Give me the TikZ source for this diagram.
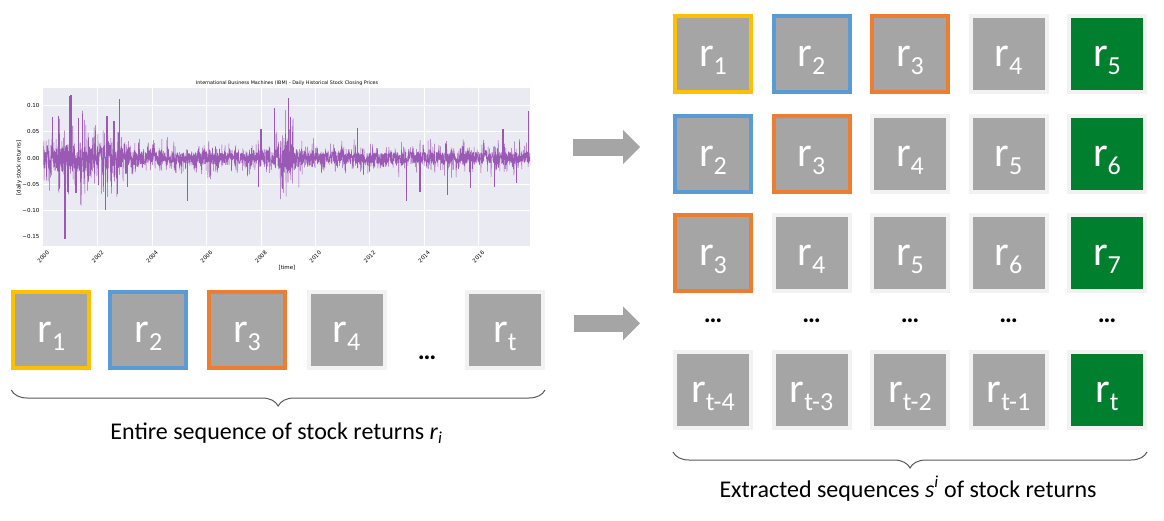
\documentclass[tikz,border=0pt]{standalone}
\usepackage{fontspec}
\setmainfont{Carlito}
\newfontfamily\plotfont{DejaVu Sans}
\usepackage{tikz}
\usetikzlibrary{arrows.meta,decorations.pathreplacing}

\definecolor{boxgrey}{HTML}{A5A5A5}
\definecolor{framelight}{HTML}{F2F2F2}
\definecolor{frameyellow}{HTML}{FFC000}
\definecolor{frameblue}{HTML}{5B9BD5}
\definecolor{frameorange}{HTML}{ED7D31}
\definecolor{retgreen}{HTML}{007F2F}
\definecolor{arrowgrey}{HTML}{A5A5A5}
\definecolor{bracegrey}{HTML}{595959}
\definecolor{plotbg}{HTML}{EAEAF2}
\definecolor{plotline}{HTML}{9B59B6}
\colorlet{frame1}{frameyellow}
\colorlet{frame2}{frameblue}
\colorlet{frame3}{frameorange}
\colorlet{frame4}{framelight}
\colorlet{frame5}{framelight}
\colorlet{frame6}{framelight}
\colorlet{frame7}{framelight}
\colorlet{fill1}{boxgrey}
\colorlet{fill2}{boxgrey}
\colorlet{fill3}{boxgrey}
\colorlet{fill4}{boxgrey}
\colorlet{fill5}{retgreen}

\newcommand{\rsub}[1]{r\raisebox{-8pt}{\fontsize{26}{26}\selectfont #1}}

\begin{document}
\begin{tikzpicture}[x=1pt, y=-1pt,
    declare function={env(\t)=0.017+0.027*exp(-((\t-1.0)/1.6)^2)+0.008*exp(-((\t-2.6)/0.6)^2)+0.03*exp(-((\t-8.9)/0.45)^2);}]
      \tikzstyle{retbox}=[draw=#1, line width=4pt, fill=boxgrey, minimum size=76pt,
        inner sep=0pt, text=white, text height=25pt, text depth=0pt,
        font=\fontsize{42}{42}\selectfont]
      \tikzset{retbox/.default=framelight}
      \tikzstyle{dotsep}=[inner sep=0pt, font=\bfseries\fontsize{26}{26}\selectfont]
      \tikzstyle{blockarrow}=[draw=arrowgrey, line width=17pt,
        -{Triangle[length=17pt, width=34pt, line width=0pt]}]
      \tikzstyle{seqbrace}=[draw=bracegrey, line width=1pt,
        decorate, decoration={brace, mirror, amplitude=16pt}]
      \tikzstyle{seqlabel}=[inner sep=0pt, font=\fontsize{24}{28}\selectfont]
      \tikzstyle{ticklab}=[inner sep=0pt, font=\plotfont\fontsize{5.5}{6}\selectfont]
      \tikzstyle{plotgrid}=[draw=white, line width=0.8pt]
      \tikzstyle{spike}=[draw=plotline, line width=1.2pt, line cap=butt]
      \def \colstep {98.5}
      \def \yrw {27.2}
      \useasboundingbox (0,0) rectangle (1164,520);

      \fill[plotbg] (43.3,88.3) rectangle (530,245.7);
      \foreach \yr in {2,4,...,16} {
        \draw[plotgrid] ({43.3+\yrw*\yr},88.3) -- ({43.3+\yrw*\yr},245.7);
      }
      \foreach \v in {0.10,0.05,0,-0.05,-0.10} {
        \draw[plotgrid] (43.3,{158-524*\v}) -- (530,{158-524*\v});
      }
      \begin{scope}
        \clip (43.3,88.3) rectangle (530,245.7);
        \pgfmathsetseed{42}
        \draw[plotline, line width=0.5pt, line join=round]
          plot[domain=0:17.95, samples=3000, variable=\t]
          ({43.3+\yrw*\t}, {158-524*env(\t)*rand*(0.6+1.8*rnd^4)});
        \foreach \yr/\val in {0.35/0.078, 0.55/0.08, 0.8/-0.155, 0.96/0.118, 1.02/0.12,
            0.9/-0.064, 1.3/0.076, 1.2/-0.067, 2.29/-0.10, 2.34/0.08, 2.79/0.113,
            2.73/-0.068, 2.6/0.07, 3.1/-0.055, 5.29/-0.082, 7.9/-0.055, 8.0/0.055,
            8.49/0.095, 8.8/-0.06, 9.0/0.115, 9.1/0.078, 11.55/0.058, 13.34/-0.082,
            13.85/-0.065, 14.85/-0.07, 15.7/-0.058, 16.6/-0.056, 16.9/0.055,
            17.4/-0.048, 17.85/0.09} {
          \path[spike] ({43.3+\yrw*\yr},158) -- ({43.3+\yrw*\yr},{158-524*\val});
        }
      \end{scope}
      \node[ticklab, font=\plotfont\fontsize{4.8}{6}\selectfont] (plottitle) at (287,82.7)
        {International Business Machines (IBM) - Daily Historical Stock Closing Prices};
      \foreach \v/\lab [count=\k] in {0.10/0.10, 0.05/0.05, 0/0.00, -0.05/−0.05, -0.10/−0.10, -0.15/−0.15} {
        \node[ticklab, anchor=east] (ytick\k) at (39.5,{158-524*\v}) {\lab};
      }
      \foreach \yr [count=\k] in {2000,2002,...,2016} {
        \node[ticklab, rotate=45] (xtick\k) at ({43.3+\yrw*(\yr-2000)},257) {\yr};
      }
      \node[ticklab, rotate=90] (ylab) at (19,168) {[daily stock returns]};
      \node[ticklab] (xlab) at (287,267.7) {[time]};

      \foreach \name/\x/\fr/\lab in {l1/51.3/frame1/1, l2/148.3/frame2/2, l3/247/frame3/3,
          l4/346.5/framelight/4, lt/505/framelight/t} {
        \node[retbox=\fr] (\name) at (\x,329.5) {\rsub{\lab}};
      }
      \node[dotsep, anchor=base] (ldots) at (427,359.5) {…};

      \foreach \row/\y in {1/54, 2/153.5, 3/253} {
        \foreach \col in {1,...,5} {
          \pgfmathtruncatemacro{\idx}{\row+\col-1}
          \node[retbox=frame\idx, fill=fill\col] (g\row\col) at ({713+\colstep*(\col-1)},\y) {\rsub{\idx}};
        }
      }
      \foreach \col in {1,...,5} {
        \node[dotsep, anchor=base] (gd\col) at ({713+\colstep*(\col-1)},322.5) {…};
      }
      \foreach \col/\lab in {1/t-4, 2/t-3, 3/t-2, 4/t-1, 5/t} {
        \node[retbox, fill=fill\col] (g4\col) at ({713+\colstep*(\col-1)},390) {\rsub{\lab}};
      }

      \coordinate (a1s) at (573,147);
      \coordinate (a1e) at (640,147);
      \coordinate (a2s) at (574,323.3);
      \coordinate (a2e) at (640,323.3);
      \draw[blockarrow] (a1s) -- (a1e);
      \draw[blockarrow] (a2s) -- (a2e);

      \draw[seqbrace] ([yshift=-20.5pt]l1.south west) -- ([yshift=-20.5pt]lt.south east);
      \draw[seqbrace] ([yshift=-22pt]g41.south west) -- ([yshift=-22pt]g45.south east);
      \node[seqlabel, anchor=base] (entirelbl) at (276.5,439.5)
        {Entire sequence of stock returns \textit{r}\textsubscript{\textit{i}}};
      \node[seqlabel, anchor=base] (extractlbl) at (908,497)
        {Extracted sequences \textit{s}\textsuperscript{\textit{i}} of stock returns};
\end{tikzpicture}
\end{document}
